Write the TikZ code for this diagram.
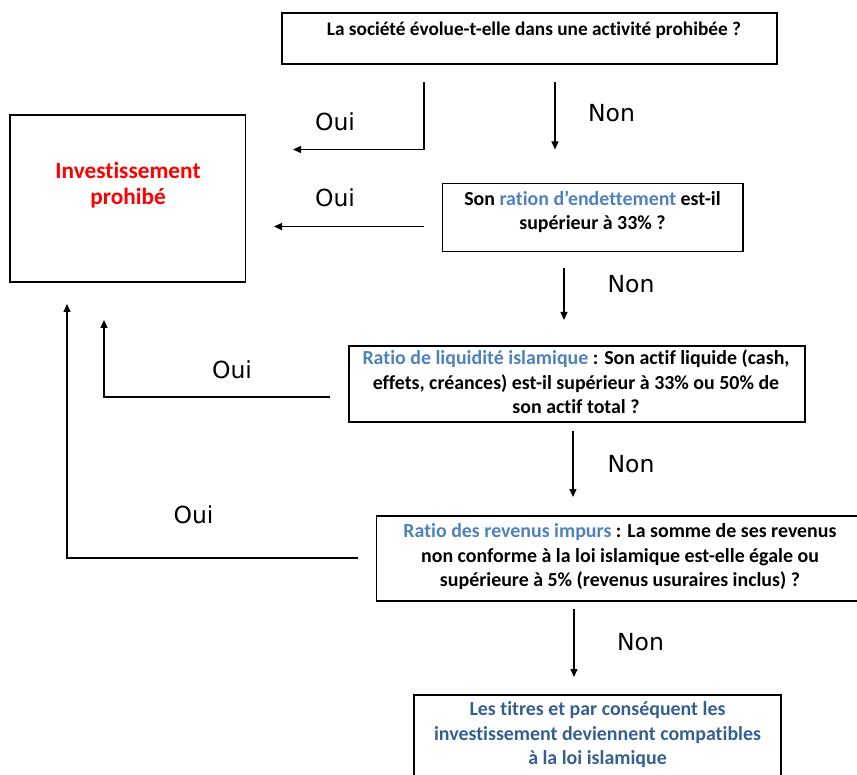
\documentclass[tikz,border=0pt]{standalone}
\usepackage{fontspec}
\setmainfont{Carlito}[Ligatures=NoCommon]
\newfontfamily\answerfont{DejaVu Sans}
\usetikzlibrary{arrows.meta}
\definecolor{ratioblue}{RGB}{79,129,189}
\definecolor{resultblue}{RGB}{54,95,145}
\definecolor{banred}{RGB}{255,0,0}

\begin{document}
\begin{tikzpicture}[x=1pt,y=-1pt,
  frame/.style={draw, line width=1.3pt, inner sep=0pt, fill=none},
  body/.style={font=\fontsize{19.9}{24.5}\selectfont\bfseries, align=center, inner sep=0pt},
  verdict/.style={font=\fontsize{23.3}{26.5}\selectfont\bfseries, text=banred, align=center, inner sep=0pt},
  answer/.style={font=\answerfont\fontsize{23.5}{28}\selectfont, inner sep=0pt},
  flow/.style={line width=1.2pt, -{Triangle[length=8pt,width=7pt]}}]
\useasboundingbox (0,0) rectangle (857,775);

% decision boxes
\node[frame, minimum width=495pt, minimum height=51pt] (q1) at (529.5,38.5) {};
\node[frame, minimum width=235.5pt, minimum height=167pt] (ban) at (127.75,198.5) {};
\node[frame, minimum width=300.5pt, minimum height=67.5pt] (q2) at (592.75,217.5) {};
\node[frame, minimum width=456pt, minimum height=76pt] (q3) at (577,384) {};
\node[frame, minimum width=490pt, minimum height=85pt] (q4) at (621.5,558.5) {};
\node[frame, minimum width=367pt, minimum height=110pt] (ok) at (597.5,750) {};

% box texts
\node[body, font=\fontsize{19.3}{24.5}\selectfont\bfseries] (q1t) at (534,30) {La société évolue-t-elle dans une activité prohibée ?};
\node[verdict] (bant) at (128,185) {Investissement\\prohibé};
\node[body] (q2t) at (592.5,212) {Son \textcolor{ratioblue}{ration d’endettement} est-il\\supérieur à 33\% ?};
\node[body] (q3t) at (576,382) {\textcolor{ratioblue}{Ratio de liquidité islamique} : Son actif liquide (cash,\\effets, créances) est-il supérieur à 33\% ou 50\% de\\son actif total ?};
\node[body] (q4t) at (620,557) {\textcolor{ratioblue}{Ratio des revenus impurs} : La somme de ses revenus\\non conforme à la loi islamique est-elle égale ou\\supérieure à 5\% (revenus usuraires inclus) ?};
\node[body, text=resultblue] (okt) at (597.5,735) {Les titres et par conséquent les\\investissement deviennent compatibles\\à la loi islamique};

% connector end points
\coordinate (y1s) at (424,82);   \coordinate (y1e) at (293,149.5);
\coordinate (n1s) at (555,82);   \coordinate (n1e) at (555,149.5);
\coordinate (y2s) at (424,226.5); \coordinate (y2e) at (274,226.5);
\coordinate (n2s) at (564,268);  \coordinate (n2e) at (564,320);
\coordinate (y3s) at (330,397);  \coordinate (y3e) at (104,320);
\coordinate (n3s) at (573,431);  \coordinate (n3e) at (573,497);
\coordinate (y4s) at (358,558);  \coordinate (y4e) at (67,304);
\coordinate (n4s) at (574,609);  \coordinate (n4e) at (574,677);

% connectors
\draw[flow] (y1s) |- (y1e);
\draw[flow] (n1s) -- (n1e);
\draw[flow] (y2s) -- (y2e);
\draw[flow] (n2s) -- (n2e);
\draw[flow] (y3s) -| (y3e);
\draw[flow] (n3s) -- (n3e);
\draw[flow] (y4s) -| (y4e);
\draw[flow] (n4s) -- (n4e);

% answer labels
\node[answer] (a1) at (335,122) {Oui};
\node[answer] (a2) at (611.5,113) {Non};
\node[answer] (a3) at (335,198) {Oui};
\node[answer] (a4) at (631,284) {Non};
\node[answer] (a5) at (232,370) {Oui};
\node[answer] (a6) at (631,464) {Non};
\node[answer] (a7) at (193.5,515) {Oui};
\node[answer] (a8) at (640.5,642) {Non};
\end{tikzpicture}
\end{document}
